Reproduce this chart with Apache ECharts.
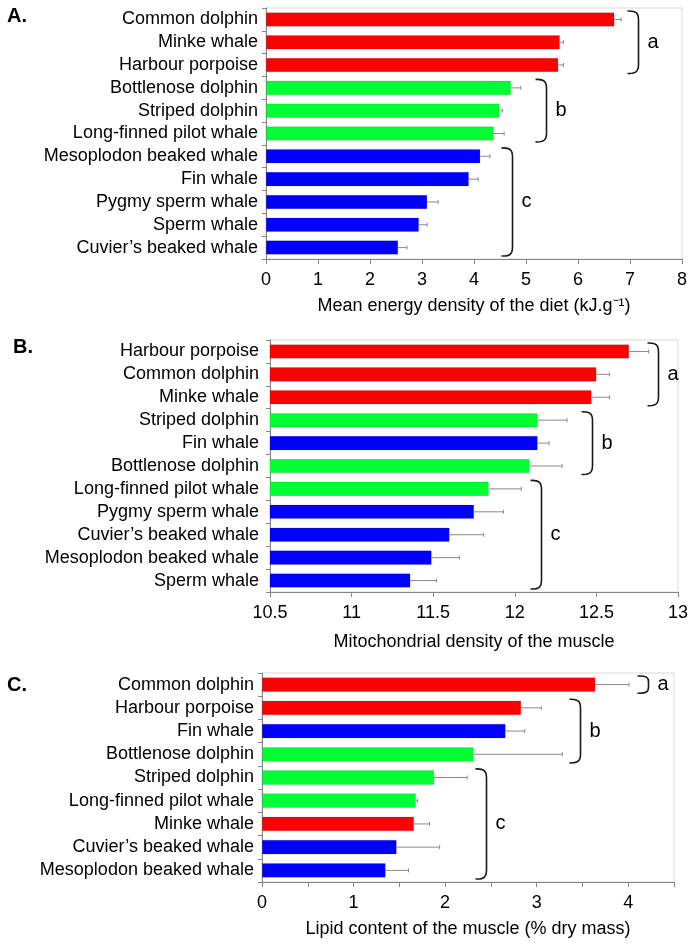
<!DOCTYPE html>
<html>
<head>
<meta charset="utf-8">
<script src="https://cdn.jsdelivr.net/npm/echarts@6/dist/echarts.min.js"></script>
<style>
html,body{margin:0;padding:0;background:#fff;}
#chart{width:692px;height:944px;}
</style>
</head>
<body>
<div id="chart"></div>
<script>
// ---------- data ----------
const categoriesA = ['Common dolphin','Minke whale','Harbour porpoise','Bottlenose dolphin','Striped dolphin','Long-finned pilot whale','Mesoplodon beaked whale','Fin whale','Pygmy sperm whale','Sperm whale','Cuvier\u2019s beaked whale'];
const valuesA = [6.70,5.65,5.62,4.71,4.49,4.38,4.12,3.90,3.10,2.94,2.54];
const errorsA = [0.13,0.07,0.10,0.19,0.06,0.20,0.19,0.18,0.21,0.16,0.17];

const categoriesB = ['Harbour porpoise','Common dolphin','Minke whale','Striped dolphin','Fin whale','Bottlenose dolphin','Long-finned pilot whale','Pygmy sperm whale','Cuvier\u2019s beaked whale','Mesoplodon beaked whale','Sperm whale'];
const valuesB = [12.70,12.50,12.47,12.14,12.14,12.09,11.84,11.75,11.60,11.49,11.36];
const errorsB = [0.12,0.08,0.11,0.18,0.07,0.20,0.20,0.18,0.21,0.17,0.16];

const categoriesC = ['Common dolphin','Harbour porpoise','Fin whale','Bottlenose dolphin','Striped dolphin','Long-finned pilot whale','Minke whale','Cuvier\u2019s beaked whale','Mesoplodon beaked whale'];
const valuesC = [3.64,2.83,2.66,2.31,1.88,1.68,1.66,1.47,1.35];
const errorsC = [0.37,0.22,0.21,0.97,0.36,0.02,0.17,0.47,0.25];

// species group (bar colour class)
const groupRed = ['Common dolphin','Minke whale','Harbour porpoise'];
const groupGreen = ['Bottlenose dolphin','Striped dolphin','Long-finned pilot whale'];
const groupBlue = ['Mesoplodon beaked whale','Fin whale','Pygmy sperm whale','Sperm whale','Cuvier\u2019s beaked whale'];

// significance brackets: letter, first category index, last category index, x value
const bracketLettersA = ['a','b','c'];
const bracketFromA = [0,3,6];
const bracketToA = [2,5,10];
const bracketAtA = [7.15,5.39,4.73];

const bracketLettersB = ['a','b','c'];
const bracketFromB = [0,3,6];
const bracketToB = [2,5,10];
const bracketAtB = [12.88,12.47,12.16];

const bracketLettersC = ['a','b','c'];
const bracketFromC = [0,1,4];
const bracketToC = [0,3,8];
const bracketAtC = [4.22,3.47,2.45];

const axisTitleA = 'Mean energy density of the diet (kJ.g\u207B\u00B9)';
const axisTitleB = 'Mitochondrial density of the muscle';
const axisTitleC = 'Lipid content of the muscle (% dry mass)';
const panelLabels = ['A.','B.','C.'];

// ---------- styling ----------
const FONT = '"Liberation Sans", Arial, sans-serif';
const COLORS = {red:'#ff0000', green:'#00ff33', blue:'#0000ff'};
function colorOf(name){
  if (groupRed.indexOf(name) >= 0) return COLORS.red;
  if (groupGreen.indexOf(name) >= 0) return COLORS.green;
  return COLORS.blue;
}
const AXIS_GRAY = '#868686';

const chart = echarts.init(document.getElementById('chart'), null, {renderer:'canvas'});

function barSeries(idx, cats, vals){
  return {
    type:'bar', xAxisIndex:idx, yAxisIndex:idx, barWidth:'62%', silent:true,
    data: vals.map((v,i)=>({value:v, itemStyle:{color:colorOf(cats[i]), borderColor:'rgba(0,0,0,0.18)', borderWidth:0.6}})),
    z:2
  };
}
function errSeries(idx, vals, errs){
  return {
    type:'custom', xAxisIndex:idx, yAxisIndex:idx, silent:true, z:3,
    encode:{x:0, y:1},
    data: vals.map((v,i)=>[v, i, errs[i]]),
    renderItem: function(params, api){
      const v = api.value(0), c = api.value(1), e = api.value(2);
      const p0 = api.coord([v, c]);
      const p1 = api.coord([v + e, c]);
      const st = {stroke:'#8a8a8a', lineWidth:1};
      return {type:'group', children:[
        {type:'line', shape:{x1:p0[0], y1:p0[1], x2:p1[0], y2:p1[1]}, style:st},
        {type:'line', shape:{x1:p1[0], y1:p1[1]-2, x2:p1[0], y2:p1[1]+2}, style:st}
      ]};
    }
  };
}
function bracketSeries(idx, letters, from, to, at){
  return {
    type:'custom', xAxisIndex:idx, yAxisIndex:idx, silent:true, z:4, clip:false,
    encode:{x:0, y:1},
    data: at.map((x,i)=>[x, from[i], to[i]]),
    renderItem: function(params, api){
      const x = api.value(0), f = api.value(1), t = api.value(2);
      const band = api.size([0,1])[1];
      const pt = api.coord([x, f]);
      const pb = api.coord([x, t]);
      const px = Math.round(pt[0]) + 0.5;
      const top = pt[1] - band/2 + 3;
      const bot = pb[1] + band/2 - 3;
      const h = bot - top;
      const cv = Math.min(9, h/3);
      const w = 11;
      const d = 'M' + (px-w) + ' ' + top +
        ' C' + (px-2) + ' ' + (top-0.5) + ' ' + px + ' ' + (top+cv*0.3) + ' ' + px + ' ' + (top+cv) +
        ' L' + px + ' ' + (bot-cv) +
        ' C' + px + ' ' + (bot-cv*0.3) + ' ' + (px-2) + ' ' + (bot+0.5) + ' ' + (px-w) + ' ' + bot;
      return {type:'group', children:[
        {type:'path', shape:{pathData:d}, style:{stroke:'#1a1a1a', lineWidth:1.6, fill:null}},
        {type:'text', x:px+9, y:(top+bot)/2, style:{text:letters[params.dataIndex], font:'20px ' + FONT, fill:'#000', align:'left', verticalAlign:'middle'}}
      ]};
    }
  };
}

function xAxisCfg(idx, min, max, interval, name, nameGap, fmt){
  return {
    type:'value', gridIndex:idx, min:min, max:max, interval:interval,
    name:name, nameLocation:'middle', nameGap:nameGap,
    nameTextStyle:{fontFamily:FONT, fontSize:18, color:'#000'},
    axisLine:{show:true, lineStyle:{color:AXIS_GRAY, width:1}},
    axisTick:{show:true, length:5, lineStyle:{color:AXIS_GRAY}},
    splitLine:{show:false},
    axisLabel:{fontFamily:FONT, fontSize:18, color:'#000', margin:12, formatter:fmt || null}
  };
}
function yAxisCfg(idx, cats, margin){
  return {
    type:'category', gridIndex:idx, data:cats, inverse:true,
    axisLine:{show:true, lineStyle:{color:AXIS_GRAY, width:1}},
    axisTick:{show:true, length:4, interval:0, lineStyle:{color:AXIS_GRAY}},
    axisLabel:{fontFamily:FONT, fontSize:18, color:'#000', margin:margin, interval:0}
  };
}

const option = {
  animation:false,
  backgroundColor:'#fff',
  grid:[
    {left:266, right:10, top:8, height:251, show:true, borderColor:'#d9d9d9', borderWidth:1},
    {left:270, right:14, top:340, height:252, show:true, borderColor:'#d9d9d9', borderWidth:1},
    {left:262, right:18, top:673, height:209, show:true, borderColor:'#d9d9d9', borderWidth:1}
  ],
  xAxis:[
    xAxisCfg(0, 0, 8, 1, axisTitleA, 38),
    xAxisCfg(1, 10.5, 13, 0.5, axisTitleB, 41),
    xAxisCfg(2, 0, 4.5, 0.5, axisTitleC, 38, function(v){ return (Math.abs(v - Math.round(v)) < 1e-9) ? String(Math.round(v)) : ''; })
  ],
  yAxis:[
    yAxisCfg(0, categoriesA, 8),
    yAxisCfg(1, categoriesB, 11),
    yAxisCfg(2, categoriesC, 8)
  ],
  series:[
    barSeries(0, categoriesA, valuesA),
    errSeries(0, valuesA, errorsA),
    bracketSeries(0, bracketLettersA, bracketFromA, bracketToA, bracketAtA),
    barSeries(1, categoriesB, valuesB),
    errSeries(1, valuesB, errorsB),
    bracketSeries(1, bracketLettersB, bracketFromB, bracketToB, bracketAtB),
    barSeries(2, categoriesC, valuesC),
    errSeries(2, valuesC, errorsC),
    bracketSeries(2, bracketLettersC, bracketFromC, bracketToC, bracketAtC)
  ],
  graphic:[
    {type:'text', left:7, top:6, style:{text:panelLabels[0], font:'bold 20px ' + FONT, fill:'#000'}},
    {type:'text', left:13, top:337, style:{text:panelLabels[1], font:'bold 20px ' + FONT, fill:'#000'}},
    {type:'text', left:7, top:675, style:{text:panelLabels[2], font:'bold 20px ' + FONT, fill:'#000'}}
  ]
};
chart.setOption(option);
</script>
</body>
</html>
